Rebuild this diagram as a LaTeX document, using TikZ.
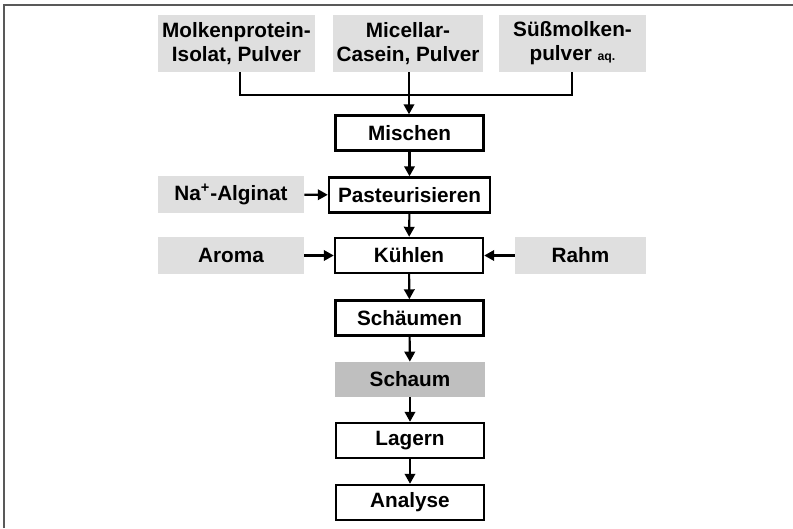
\documentclass[tikz,border=0pt]{standalone}
\usepackage{fontspec}
\setmainfont{Liberation Sans}
\usetikzlibrary{arrows.meta}
\begin{document}
\begin{tikzpicture}[x=0.02cm,y=-0.02cm,font=\bfseries\fontsize{11.8}{13.6}\selectfont,
  stepbox/.style={draw,line width=1.4pt,minimum width=2.96cm,minimum height=0.7cm,inner sep=1pt},
  inbox/.style={fill=gray!25,align=center,inner sep=1pt},
  foam/.style={fill=gray!50,minimum width=3cm,minimum height=0.7cm,inner sep=1pt},
  flow/.style={line width=1.2pt,-{Triangle[length=2mm,width=2.1mm]}}]
\useasboundingbox (0,0) rectangle (793,528);
\draw[line width=1.2pt,gray!70!black] (4,528) -- (4,5) -- (793,5);
% ingredients
\node[inbox,minimum width=3.14cm,minimum height=1.14cm] (molk) at (236.5,43.5) {Molkenprotein-\\Isolat, Pulver};
\node[inbox,minimum width=3cm,minimum height=1.14cm] (mic) at (408,43.5) {Micellar-\\Casein, Pulver};
\node[inbox,minimum width=2.94cm,minimum height=1.14cm] (suess) at (572.5,43.5) {Süßmolken-\\pulver {\scriptsize aq.}};
\node[inbox,minimum width=2.92cm,minimum height=0.74cm] (alg) at (231,194.5) {Na\textsuperscript{+}-Alginat};
\node[inbox,minimum width=2.92cm,minimum height=0.74cm] (aroma) at (231,255.5) {Aroma};
\node[inbox,minimum width=2.62cm,minimum height=0.74cm] (rahm) at (580.5,255.5) {Rahm};
% process steps
\node[stepbox] (misch) at (409.5,133) {Mischen};
\node[stepbox,minimum width=3.22cm] (past) at (409.5,195) {Pasteurisieren};
\node[stepbox] (kuehl) at (409,255.5) {Kühlen};
\node[stepbox] (schaeum) at (409.5,318) {Schäumen};
\node[foam] (schaum) at (410,379.5) {Schaum};
\node[stepbox] (lager) at (410,440.5) {Lagern};
\node[stepbox] (anal) at (410,502.5) {Analyse};
\coordinate (join) at (409,95);
\draw[line width=1.2pt] (molk.south -| 240,0) |- (join) -| (suess.south -| 572,0);
\draw[flow] (mic.south -| join) -- (misch.north -| join);
\draw[flow] (misch) -- (past);
\draw[flow] (alg) -- (past);
\draw[flow] (past) -- (kuehl);
\draw[flow] (aroma) -- (kuehl);
\draw[flow] (rahm) -- (kuehl);
\draw[flow] (kuehl) -- (schaeum);
\draw[flow] (schaeum) -- (schaum);
\draw[flow] (schaum) -- (lager);
\draw[flow] (lager) -- (anal);
\end{tikzpicture}
\end{document}
